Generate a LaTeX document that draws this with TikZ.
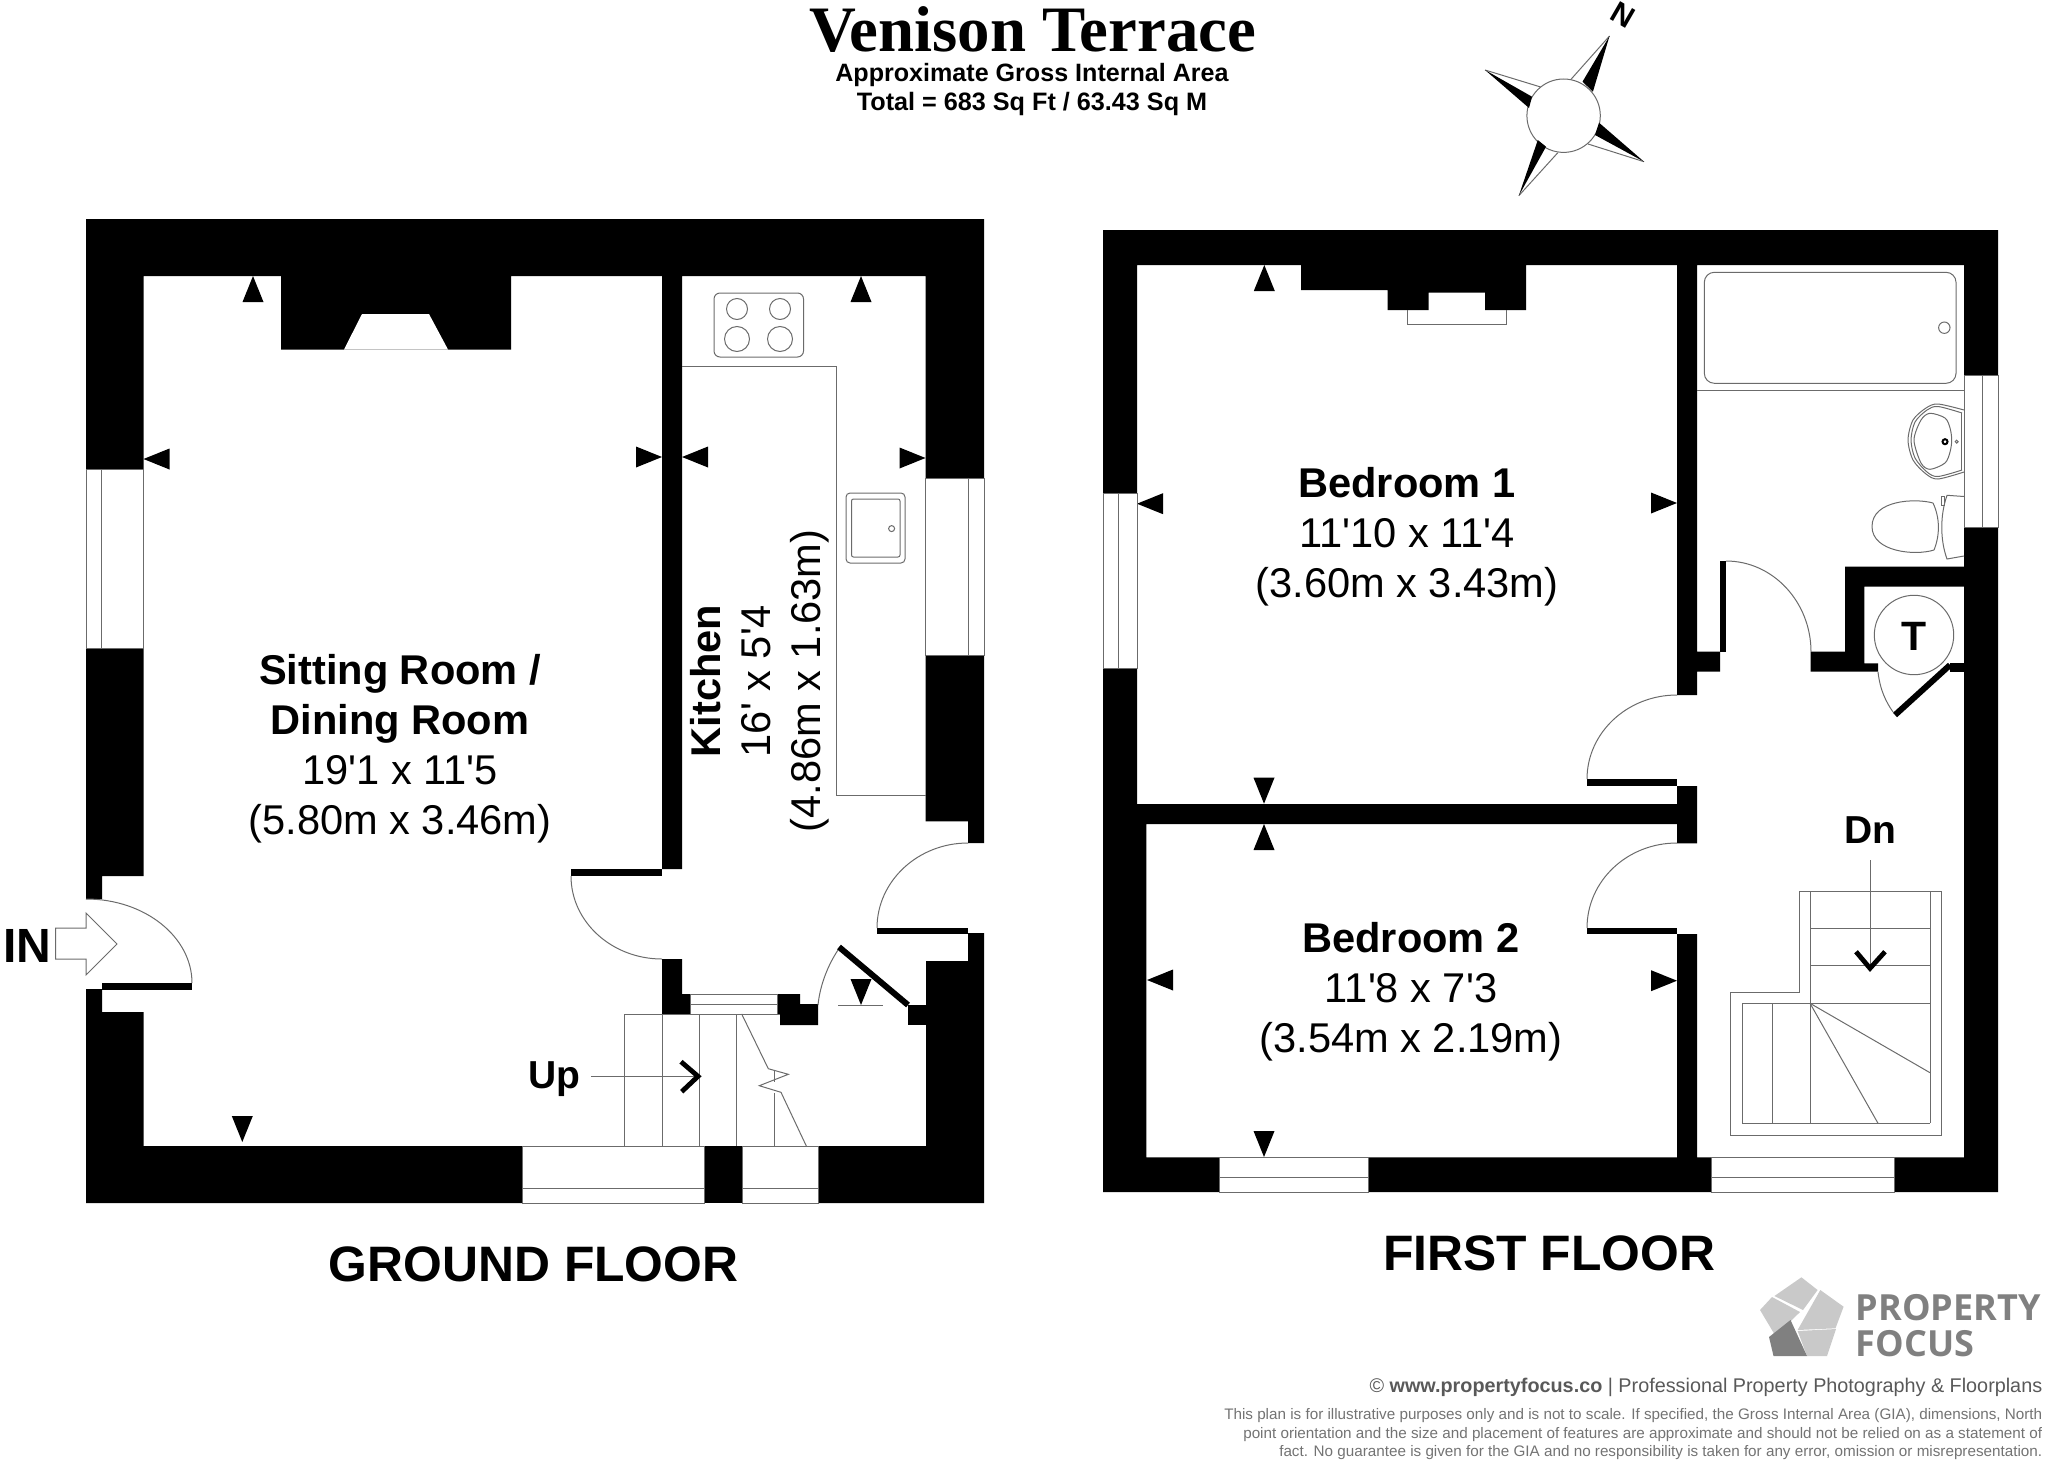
\documentclass[tikz,border=0pt]{standalone}
\usepackage{fontspec}
\usepackage{xcolor}
\usetikzlibrary{positioning, calc}
\setmainfont{Liberation Sans}
\newfontfamily\planfont{Liberation Sans}
\newfontfamily\titlefont{Liberation Serif}
\newfontfamily\logofont{Open Sans}
\definecolor{hairline}{gray}{0.42}
\definecolor{logodark}{gray}{0.5}
\definecolor{logolight}{gray}{0.79}
\tikzset{
	wall/.style={fill=black},
	thin line/.style={draw=hairline, line width=0.5pt},
	opening/.style={fill=white, draw=hairline, line width=0.4pt},
	door leaf/.style={draw=black, line width=3pt},
	stair arrow/.style={draw=black, line width=2.4pt},
	room/.style={align=center, inner sep=0pt, font=\planfont\fontsize{20.8}{25}\selectfont},
	stair label/.style={inner sep=0pt, font=\fontsize{19.5}{23}\selectfont\bfseries},
	floor label/.style={inner sep=0pt, anchor=base, font=\fontsize{24.9}{30}\selectfont\bfseries}
}

\begin{document}
\begin{tikzpicture}[x=0.5pt, y=-0.5pt]
	\useasboundingbox (0,0) rectangle (2048,1461);

	\fill[wall] (86,219) -- (984,219) -- (984,478) -- (925.5,478) -- (925.5,276) -- (682,276) -- (682,869) -- (662,869) -- (662,276) -- (511,276) -- (511,349.5) -- (281,349.5) -- (281,276) -- (143.5,276) -- (143.5,469.6) -- (86,469.6) -- cycle;
	\fill[white] (362,314) -- (429,314) -- (448,349.5) -- (344,349.5) -- cycle;
	\fill[wall] (86,648) -- (143.5,648) -- (143.5,876) -- (102,876) -- (102,899) -- (86,899) -- cycle;
	\fill[wall] (86,989) -- (102,989) -- (102,1012) -- (143.5,1012) -- (143.5,1146) -- (522,1146) -- (522,1203) -- (86,1203) -- cycle;
	\fill[wall] (925.5,655) -- (984,655) -- (984,843) -- (968,843) -- (968,821.4) -- (925.5,821.4) -- cycle;
	\fill[wall] (968,933) -- (984,933) -- (984,1203) -- (818.7,1203) -- (818.7,1146) -- (926,1146) -- (926,961) -- (968,961) -- cycle;
	\fill[wall] (704,1146) rectangle (742,1203);
	\fill[wall] (662,959) -- (682,959) -- (682,994) -- (690,994) -- (690,1014) -- (662,1014) -- cycle;
	\fill[wall] (777,994) -- (800,994) -- (800,1004) -- (818,1004) -- (818,1025) -- (780,1025) -- (780,1014) -- (777,1014) -- cycle;
	\fill[wall] (908,1005) rectangle (926,1025);
	\fill[wall] (102,983) rectangle (192,989.5);
	\fill[wall] (571,869) rectangle (662,876);
	\fill[wall] (877,928) rectangle (968,934);
	\draw[door leaf] (839,947) -- (908,1005);

	\draw[opening] (86,469.6) rectangle (143.5,648);
	\draw[thin line] (101.5,469.6) -- (101.5,648);
	\draw[opening] (925.5,478) rectangle (984,655);
	\draw[thin line] (968,478) -- (968,655);
	\draw[opening] (522,1146) rectangle (704,1203);
	\draw[thin line] (522,1188) -- (704,1188);
	\draw[opening] (742,1146) rectangle (818.7,1203);
	\draw[thin line] (742,1188) -- (818.7,1188);
	\draw[opening] (690,994) rectangle (777,1014);
	\draw[thin line] (690,1004) -- (777,1004);

	\draw[thin line] (86,899) .. controls (145,899) and (192,937) .. (192,983);
	\draw[thin line] (571,876) .. controls (571,922) and (612,959) .. (662,959);
	\draw[thin line] (877,928) .. controls (877,881) and (918,843) .. (968,843);
	\draw[thin line] (818,1005) .. controls (820,985) and (828,965) .. (838,950);

	\draw[thin line, rounded corners=3pt] (714,293) rectangle (803.5,357);
	\foreach \bx/\by/\br in {737/309/10.5, 780/309/10.5, 737/339/12.5, 780/339/12.5}
		\draw[thin line] (\bx,\by) circle[radius=\br];
	\draw[thin line] (682,366.5) -- (836,366.5) -- (836,795) -- (925.5,795);
	\draw[thin line, rounded corners=2pt] (846,493) rectangle (905,563);
	\draw[thin line, rounded corners=1pt] (851.5,499) rectangle (900,557);
	\draw[thin line] (891.6,528.6) circle[radius=3];

	\draw[thin line] (624,1014) -- (780,1014);
	\foreach \sx in {624, 662, 699, 736.7}
		\draw[thin line] (\sx,1014) -- (\sx,1146);
	\draw[thin line] (774,1070) -- (774,1082);
	\draw[thin line] (774,1093) -- (774,1146);
	\draw[thin line] (741.7,1014) -- (768.3,1068.7) -- (788.3,1074.3) -- (759.3,1085.7) -- (781,1092.3) -- (806.3,1146);
	\draw[thin line] (838,1005) -- (883,1005);

	\foreach \tx/\ty/\tr in {253/276/0, 861/276/0, 143.5/459/90, 662/457/-90, 682/457/90, 925.5/458/-90, 242.3/1142/180, 861/1005/180, 1264.3/265/0, 1137/503.7/90, 1677/503/-90, 1264/803.7/180, 1264/824/0, 1147/980/90, 1677/980.7/-90, 1264/1157/180}
		\fill[wall, shift={(\tx,\ty)}, rotate=\tr] (0,0) -- (-10.5,26) -- (10.5,26) -- cycle;

	\draw[thin line] (55.5,928) -- (86,928) -- (86,913) -- (117,944) -- (86,975) -- (86,959) -- (55.5,959) -- cycle;
	\node[anchor=base west, inner sep=0pt, font=\fontsize{24}{28}\selectfont\bfseries] (In) at (3,962) {IN};

	\node[room] (Sitting Room) at (400,749) {\textbf{Sitting Room /}\\
		\textbf{Dining Room}\\
		19'1 x 11'5\\
		(5.80m x 3.46m)};
	\node[room, rotate=90] (Kitchen) at (760,681) {\textbf{Kitchen}\\
		16' x 5'4\\
		(4.86m x 1.63m)};
	\node[stair label, anchor=base west] (Up) at (528,1088) {Up};
	\coordinate (Up tip) at (698,1076.3);
	\draw[thin line] (Up.east |- Up tip) ++(10,0) -- (Up tip);
	\draw[stair arrow] (681,1061.7) -- (Up tip) -- (681.7,1091.7);
	\node[floor label] (Ground Floor) at (533.7,1281) {GROUND FLOOR};

	\fill[wall] (1103,230) -- (1998,230) -- (1998,375) -- (1964,375) -- (1964,265) -- (1697,265) -- (1697,651.7) -- (1720,651.7) -- (1720,671.7) -- (1697,671.7) -- (1697,695) -- (1677,695) -- (1677,265) -- (1526,265) -- (1526,310) -- (1485,310) -- (1485,292.6) -- (1428.6,292.6) -- (1428.6,310) -- (1387.5,310) -- (1387.5,290) -- (1301,290) -- (1301,265) -- (1137,265) -- (1137,493.5) -- (1103,493.5) -- cycle;
	\fill[wall] (1103,668) -- (1137,668) -- (1137,804) -- (1677,804) -- (1677,786) -- (1697,786) -- (1697,843.3) -- (1677,843.3) -- (1677,824) -- (1146.3,824) -- (1146.3,1157.3) -- (1219,1157.3) -- (1219,1192) -- (1103,1192) -- cycle;
	\fill[wall] (1677,934) -- (1697,934) -- (1697,1157.3) -- (1711,1157.3) -- (1711,1192) -- (1368.8,1192) -- (1368.8,1157.3) -- (1677,1157.3) -- cycle;
	\fill[wall] (1964,527.3) -- (1998,527.3) -- (1998,1192) -- (1894,1192) -- (1894,1157.3) -- (1964,1157.3) -- cycle;
	\fill[wall] (1845,566.7) -- (1964,566.7) -- (1964,586.7) -- (1864.3,586.7) -- (1864.3,663.3) -- (1878,663.3) -- (1878,671.7) -- (1810.7,671.7) -- (1810.7,651.7) -- (1845,651.7) -- cycle;
	\fill[wall] (1950,663.3) rectangle (1964,671.7);
	\fill[wall] (1720,561) rectangle (1726,652);
	\fill[wall] (1587,779) rectangle (1677,786);
	\fill[wall] (1587,928) rectangle (1677,934);
	\draw[door leaf] (1950,665) -- (1895,715);

	\draw[thin line] (1407.5,310) -- (1407.5,324.5) -- (1506.7,324.5) -- (1506.7,310);

	\draw[opening] (1103,493.5) rectangle (1137,668);
	\draw[thin line] (1118,493.5) -- (1118,668);
	\draw[opening] (1964,375) rectangle (1998,527.3);
	\draw[thin line] (1982.7,375) -- (1982.7,527.3);
	\draw[opening] (1219,1157.3) rectangle (1368.8,1192);
	\draw[thin line] (1219,1177.3) -- (1368.8,1177.3);
	\draw[opening] (1711,1157.3) rectangle (1894,1192);
	\draw[thin line] (1711,1177.3) -- (1894,1177.3);

	\draw[thin line] (1726,561) .. controls (1773,561) and (1811,602) .. (1811,652);
	\draw[thin line] (1587,779) .. controls (1587,733) and (1627,695) .. (1677,695);
	\draw[thin line] (1587,928) .. controls (1587,881) and (1627,843) .. (1677,843);
	\draw[thin line] (1878,672) .. controls (1880,690) and (1886,702) .. (1893,712);

	\draw[thin line, rounded corners=5pt] (1704.3,272.3) rectangle (1956,383.3);
	\draw[thin line] (1944.3,327.7) circle[radius=5.7];
	\draw[thin line] (1697,390.7) -- (1964,390.7);

	\draw[thin line] plot[smooth] coordinates {(1964,410) (1938,404) (1926,408) (1913,420) (1908,440) (1913,460) (1926,474) (1938,479) (1964,472)};
	\draw[thin line] plot[smooth] coordinates {(1962,413) (1938,406.5) (1927,410) (1915,422) (1911,440) (1915,458) (1927,472) (1938,476.5) (1962,470)};
	\draw[thin line] (1961.7,413) -- (1961.7,470);
	\draw[thin line] plot[smooth cycle] coordinates {(1930,413.3) (1945,418) (1950,428) (1951.7,440) (1950,452) (1945,463) (1930,469.3) (1921,463) (1914,440) (1921,420)};
	\draw[line width=1pt] (1945,441.7) circle[radius=2.5];
	\draw[thin line] (1956.7,441.7) circle[radius=1.5];

	\draw[thin line] (1933,503) .. controls (1915,498) and (1872,500) .. (1872,526.5) .. controls (1872,552) and (1915,556) .. (1934,550);
	\draw[thin line] (1933,503) .. controls (1940,518) and (1940,535) .. (1934,550);
	\draw[thin line] (1964,496.5) -- (1947,495.3) .. controls (1940,515) and (1940,540) .. (1947,559) -- (1964,556);
	\draw[thin line] (1941.7,496) rectangle (1944,505);

	\draw[thin line] (1914,635) circle[radius=39.7];
	\node[inner sep=0pt, anchor=base, font=\fontsize{20.5}{24}\selectfont\bfseries] (Tank) at (1914,650.7) {T};

	\draw[thin line] (1799,891.3) -- (1941.5,891.3) -- (1941.5,1135.3) -- (1730.3,1135.3) -- (1730.3,992.3) -- (1799,992.3) -- cycle;
	\draw[thin line] (1810,891.3) -- (1810,1123.3);
	\draw[thin line] (1930,891.3) -- (1930,1123.3);
	\foreach \sy in {928.3, 965.7}
		\draw[thin line] (1810,\sy) -- (1930,\sy);
	\draw[thin line] (1742,1003.3) -- (1930,1003.3);
	\draw[thin line] (1742,1003.3) -- (1742,1123.3) -- (1930,1123.3);
	\draw[thin line] (1772.5,1003.3) -- (1772.5,1123.3);
	\draw[thin line] (1810,1003.3) -- (1930,1072.7);
	\draw[thin line] (1810,1003.3) -- (1878,1123.3);

	\node[stair label, anchor=base] (Dn) at (1870,843.3) {Dn};
	\coordinate (Dn tip) at (1870,968.3);
	\draw[thin line] (Dn.south |- 0,860) -- (Dn tip);
	\draw[stair arrow] (1856,951.7) -- (Dn tip) -- (1885,951.7);

	\node[room] (Bedroom 1) at (1407,537) {\textbf{Bedroom 1}\\
		11'10 x 11'4\\
		(3.60m x 3.43m)};
	\node[room] (Bedroom 2) at (1411,992) {\textbf{Bedroom 2}\\
		11'8 x 7'3\\
		(3.54m x 2.19m)};
	\node[floor label] (First Floor) at (1549,1270) {FIRST FLOOR};

	\node[inner sep=0pt, anchor=base, font=\titlefont\fontsize{32.4}{36}\selectfont\bfseries] (Title) at (1032.5,52) {Venison Terrace};
	\node[inner sep=0pt, anchor=base, font=\fontsize{12.55}{14}\selectfont\bfseries] (Area) at (1032,81.7) {Approximate Gross Internal Area};
	\node[inner sep=0pt, anchor=base, font=\fontsize{12.6}{14}\selectfont\bfseries] (Total) at (1032,111) {Total = 683 Sq Ft / 63.43 Sq M};

	\draw[thin line] (1563.6,115.7) circle[radius=36.7];
	\draw[thin line] (1609.5,36) -- (1571,79.3);
	\fill[wall] (1609.5,36) -- (1582.5,81.7) -- (1592.9,91.7) -- cycle;
	\draw[thin line] (1485,70) -- (1540.6,87);
	\fill[wall] (1485,70) -- (1532,96.7) -- (1529,108) -- cycle;
	\draw[thin line] (1644,161.7) -- (1588,144);
	\fill[wall] (1644,161.7) -- (1595,135) -- (1599,122.7) -- cycle;
	\draw[thin line] (1518.8,195.7) -- (1557.8,152.7);
	\fill[wall] (1518.8,195.7) -- (1546,146.7) -- (1537.8,140) -- cycle;
	\node[inner sep=0pt, rotate=-30, font=\fontsize{15}{17}\selectfont\bfseries] (North) at (1622.7,15) {N};

	\fill[logolight] (1801.4,1277.3) -- (1817.6,1290) -- (1803,1310) -- (1774.4,1296) -- cycle;
	\fill[logolight] (1820.3,1290) -- (1843.6,1306.7) -- (1835.5,1328.3) -- (1797.6,1330) -- cycle;
	\fill[logolight] (1797.6,1331) -- (1836,1329) -- (1827,1356) -- (1807,1356) -- cycle;
	\fill[logolight] (1772,1297) -- (1800,1312) -- (1775.5,1336) -- (1760,1310) -- cycle;
	\fill[logodark] (1790.5,1320) -- (1807,1356) -- (1773.5,1356) -- (1769,1337) -- cycle;
	\node[inner sep=0pt, anchor=base west, text=logodark, font=\logofont\fontsize{18}{20}\selectfont\bfseries] (Logo Top) at (1855.5,1320) {PROPERTY};
	\node[inner sep=0pt, anchor=base west, text=logodark, font=\logofont\fontsize{18}{20}\selectfont\bfseries] (Logo Bottom) at (1855.5,1356) {FOCUS};
	\node[inner sep=0pt, anchor=base east, text=black!65, font=\fontsize{9.9}{12}\selectfont] (Credit) at (2042.6,1392.7) {© \textbf{www.propertyfocus.co} | Professional Property Photography \& Floorplans};
	\node[inner sep=0pt, anchor=south east, align=right, text=black!55, font=\fontsize{7.62}{9.2}\selectfont] (Disclaimer) at (2042.6,1460) {This plan is for illustrative purposes only and is not to scale. If specified, the Gross Internal Area (GIA), dimensions, North\\
		point orientation and the size and placement of features are approximate and should not be relied on as a statement of\\
		fact. No guarantee is given for the GIA and no responsibility is taken for any error, omission or misrepresentation.};
\end{tikzpicture}
\end{document}
